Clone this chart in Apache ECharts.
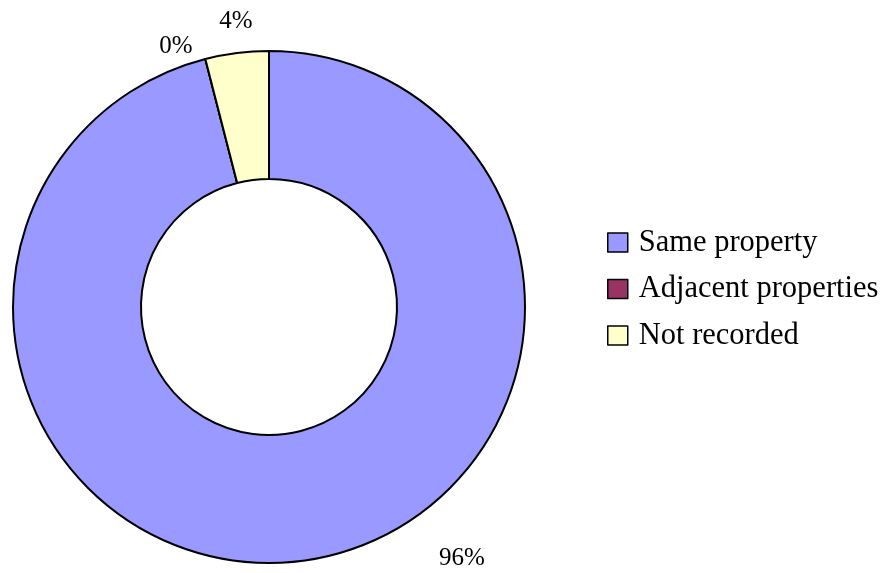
<!DOCTYPE html>
<html>
<head>
<meta charset="utf-8">
<script src="https://cdn.jsdelivr.net/npm/echarts@6/dist/echarts.min.js"></script>
<style>
  html, body { margin: 0; padding: 0; background: #fff; }
  #chart { width: 889px; height: 573px; }
</style>
</head>
<body>
<div id="chart"></div>
<script>
// Where the works took place, share of records
const categories = ['Same property', 'Adjacent properties', 'Not recorded'];
const shares = [96, 0, 4];
const sliceColors = ['#9999FF', '#993366', '#FFFFCC'];

// Hand-placed positions of the percentage labels (x, y centres)
const labelSpots = [[462, 558], [176, 46], [236, 21]];

const chart = echarts.init(document.getElementById('chart'));

chart.setOption({
  backgroundColor: '#ffffff',
  animation: false,
  legend: {
    orient: 'vertical',
    left: 607,
    top: 227,
    padding: 0,
    itemWidth: 20,
    itemHeight: 19,
    itemGap: 15.5,
    icon: 'rect',
    data: categories,
    textStyle: {
      fontFamily: 'Liberation Serif',
      fontSize: 30.5,
      lineHeight: 30,
      color: '#000',
      padding: [0, 0, 0, 6]
    },
    itemStyle: { borderColor: '#000', borderWidth: 1.5 }
  },
  series: [{
    type: 'pie',
    center: [269, 307],
    radius: [128, 256],
    startAngle: 90,
    clockwise: true,
    avoidLabelOverlap: false,
    itemStyle: { borderColor: '#000', borderWidth: 2 },
    emphasis: { disabled: true },
    label: {
      show: true,
      position: 'outside',
      formatter: '{d}%',
      fontFamily: 'Liberation Serif',
      fontSize: 25,
      color: '#000'
    },
    labelLine: { show: false },
    labelLayout: function (p) {
      const s = labelSpots[p.dataIndex];
      return { x: s[0], y: s[1], align: 'center', verticalAlign: 'middle' };
    },
    data: categories.map((name, i) => ({
      name: name,
      value: shares[i],
      itemStyle: { color: sliceColors[i] }
    }))
  }]
});
</script>
</body>
</html>
